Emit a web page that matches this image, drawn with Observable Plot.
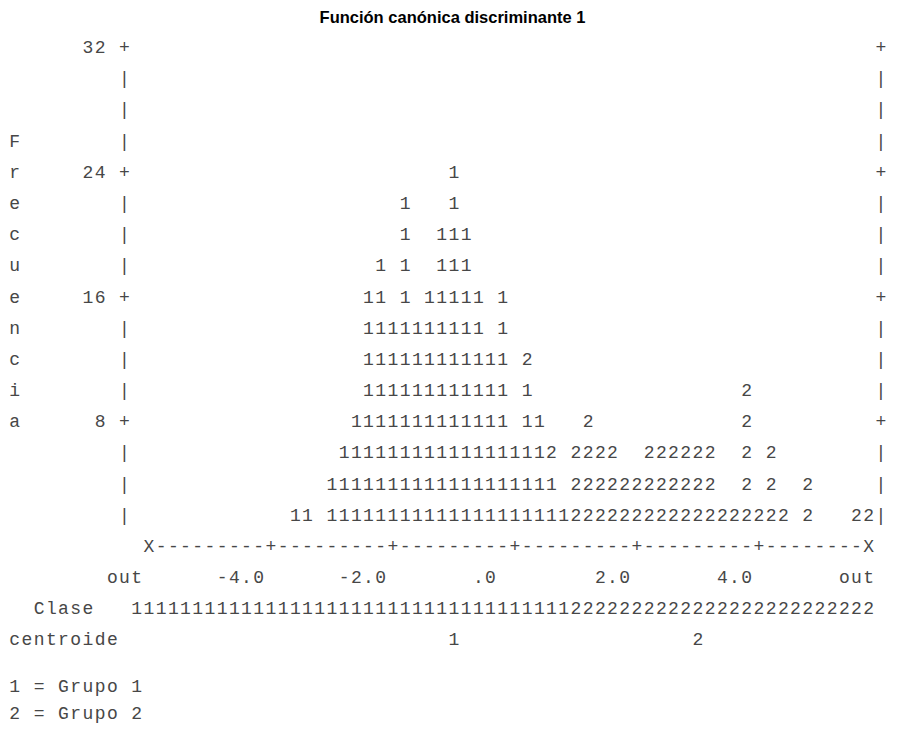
<!DOCTYPE html>
<html>
<head>
<meta charset="utf-8">
<script src="https://cdn.jsdelivr.net/npm/d3@7"></script>
<script src="https://cdn.jsdelivr.net/npm/@observablehq/plot@0.6"></script>
<style>
  html, body { margin: 0; padding: 0; background: #fff; }
</style>
</head>
<body>
<div id="chart"></div>
<script>
// ---------- data ----------
const title = "Función canónica discriminante 1";
const yLabel = "Frecuencia";
// bin centres (value of the discriminant function) and the symbols stacked in each bin, bottom to top
const binCenters = [-3.6, -3.4, -3.2, -3.0, -2.8, -2.6, -2.4, -2.2, -2.0, -1.8, -1.6, -1.4, -1.2, -1.0, -0.8, -0.6,
  -0.4, -0.2, 0.0, 0.2, 0.4, 0.6, 0.8, 1.0, 1.2, 1.4, 1.6, 1.8, 2.0, 2.2, 2.4, 2.6, 2.8, 3.0, 3.2, 3.4, 3.6, 3.8,
  4.0, 4.2, 4.4, 4.6, 4.8, 5.0, 5.2, 5.4, 5.6, 5.8];
const binStacks = ["1", "1", "", "11", "111", "1111", "11111111", "111111111", "1111111", "11111111111", "1111111",
  "11111111", "1111111111", "111111111111", "1111111111", "11111111", "111111", "11111111", "111", "111112", "1111",
  "112", "1", "222", "2222", "222", "222", "22", "22", "222", "222", "222", "222", "222", "222", "2", "2", "22222",
  "2", "222", "2", "", "22", "", "", "", "2", "2"];
const yTicks = [8, 16, 24, 32];
const xTicks = [-4, -2, 0, 2, 4];
const xTickLabels = ["-4.0", "-2.0", ".0", "2.0", "4.0"];
const outLabel = "out";
const outPositions = [-6.0, 5.8];
const classLabel = "Clase";
const classRow = "111111111111111111111111111111111111" + "2222222222222222222222222";
const centroidLabel = "centroide";
const centroidGroups = ["1", "2"];
const centroidValues = [-1.0, 3.0];
const legendLines = ["1 = Grupo 1", "2 = Grupo 2"];

// ---------- layout helpers ----------
const STEP = 0.2;            // one character column in value units
const ROW = 2;               // one character row in frequency units
const charsAt = (str, xStart, y) =>
  str.split("").map((ch, i) => ({x: xStart + i * STEP, y, ch})).filter(d => d.ch !== " ");
const charsEnding = (str, xEnd, y) => charsAt(str, xEnd - (str.length - 1) * STEP, y);
const near = (a, b) => Math.abs(a - b) < 1e-6;
// tick labels end one column left of their tick ("." labels one more)
const labelEnd = (t, label) => t - STEP * (label.startsWith(".") ? 2 : 1);

// histogram symbols
const histChars = binCenters.flatMap((v, i) =>
  binStacks[i].split("").map((ch, k) => ({x: v, y: ROW * (k + 1), ch})));

// frame: left and right borders
const frameChars = d3.range(ROW, 32 + ROW, ROW).flatMap(f =>
  [-6.4, 6.0].map(x => ({x, y: f, ch: yTicks.includes(f) ? "+" : "|"})));

// x-axis line, from the left "out" X to the right "out" X
const axisChars = d3.range(0, 60).map(c => {
  const v = outPositions[0] + c * STEP;
  const ch = outPositions.some(o => near(o, v)) ? "X" : xTicks.some(t => near(t, v)) ? "+" : "-";
  return {x: v, y: 0, ch};
});

const yTickChars = yTicks.flatMap(t => charsEnding(String(t), -6.8, t));
const yLabelChars = yLabel.split("").map((ch, i) => ({x: -8.2, y: 26 - ROW * i, ch}));
const xTickChars = [
  ...charsEnding(outLabel, outPositions[0] - STEP, -2),
  ...xTicks.flatMap((t, i) => charsEnding(xTickLabels[i], labelEnd(t, xTickLabels[i]), -2)),
  ...charsEnding(outLabel, outPositions[1], -2)
];
const classChars = [...charsAt(classLabel, -7.8, -4), ...charsAt(classRow, -6.2, -4)];
const centroidChars = [
  ...charsAt(centroidLabel, -8.2, -6),
  ...centroidGroups.map((g, i) => ({x: centroidValues[i], y: -6, ch: g}))
];
const legendChars = [
  ...charsAt(legendLines[0], -8.2, -9.0),
  ...charsAt(legendLines[1], -8.2, -10.74)
];

const mono = {fontFamily: "Liberation Mono", fontSize: 18, fill: "#474747", textAnchor: "middle", lineAnchor: "middle"};

const chart = Plot.plot({
  width: 904,
  height: 729,
  margin: 0,
  x: {domain: [-8.4328, 6.3869], axis: null},
  y: {domain: [-11.768, 35.008], axis: null},
  marks: [
    Plot.text([title], {frameAnchor: "top", dy: 17, lineAnchor: "middle", fontFamily: "Liberation Sans",
      fontWeight: "bold", fontSize: 16.5, fill: "#000"}),
    Plot.text(frameChars, {x: "x", y: "y", text: "ch", ...mono}),
    Plot.text(axisChars, {x: "x", y: "y", text: "ch", ...mono}),
    Plot.text(yTickChars, {x: "x", y: "y", text: "ch", ...mono}),
    Plot.text(yLabelChars, {x: "x", y: "y", text: "ch", ...mono}),
    Plot.text(xTickChars, {x: "x", y: "y", text: "ch", ...mono}),
    Plot.text(histChars, {x: "x", y: "y", text: "ch", ...mono}),
    Plot.text(classChars, {x: "x", y: "y", text: "ch", ...mono}),
    Plot.text(centroidChars, {x: "x", y: "y", text: "ch", ...mono}),
    Plot.text(legendChars, {x: "x", y: "y", text: "ch", ...mono})
  ]
});
document.getElementById("chart").appendChild(chart);
</script>
</body>
</html>
